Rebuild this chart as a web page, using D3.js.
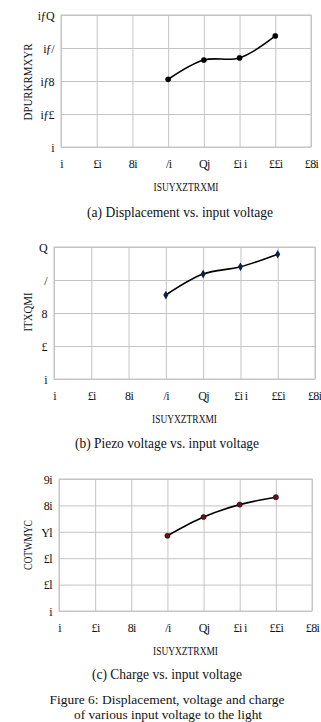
<!DOCTYPE html>
<html><head><meta charset="utf-8">
<script src="https://cdn.jsdelivr.net/npm/d3@7"></script>
<style>body{margin:0;background:#fff}svg{display:block}text{font-family:"Liberation Serif","DejaVu Serif",serif;fill:#111}</style>
</head><body>
<script>
const xTicks = [0,20,40,60,80,100,120,140];
const xTickLabels = ["i","£i","8i","/i","Qj","£i i","££i","£8i"];
const inputVoltage = [60,80,100,120];
const displacement = [0.41,0.527,0.54,0.673];
const piezoVoltage = [5.09,6.36,6.8,7.56];
const charge = [28.5,35.6,40.3,43.1];
const yTicksA = [0,0.2,0.4,0.6,0.8];
const yLabelsA = ["i","iƒ£","iƒ8","iƒ/","iƒQ"];
const yTicksB = [0,2,4,6,8];
const yLabelsB = ["i","£","8","/","Q"];
const yTicksC = [0,10,20,30,40,50];
const yLabelsC = ["i","£l","£l","Yl","8i","9i"];
const xTitle = "ISUYXZTRXMI";
const yTitles = ["DPURKRMXYR","ITXQMI","COTWMYC"];
const captions = ["(a) Displacement vs. input voltage","(b) Piezo voltage vs. input voltage","(c) Charge vs. input voltage"];
const figCaption = ["Figure 6: Displacement, voltage and charge","of various input voltage to the light"];

const svg = d3.select("body").append("svg").attr("width",321).attr("height",722);

const panels = [
  {l:61,r:311,t:15,b:147,yt:yTicksA,yl:yLabelsA,data:displacement,marker:"circle",mcol:"#000",ytx:27,ytw:77},
  {l:54,r:315,t:247,b:379,yt:yTicksB,yl:yLabelsB,data:piezoVoltage,marker:"diamond",mcol:"#0d1f4a",ytx:27,ytw:39},
  {l:59,r:312,t:479,b:611,yt:yTicksC,yl:yLabelsC,data:charge,marker:"circle",mcol:"#6a0f1e",ytx:27,ytw:50}
];

panels.forEach((p,i)=>{
  const x = d3.scaleLinear().domain([0,140]).range([p.l,p.r]);
  const y = d3.scaleLinear().domain([p.yt[0],p.yt[p.yt.length-1]]).range([p.b,p.t]);
  const g = svg.append("g");
  const gx = g.append("g").attr("transform",`translate(0,${p.b})`)
    .call(d3.axisBottom(x).tickValues(xTicks).tickSize(-(p.b-p.t)).tickFormat(""));
  const gy = g.append("g").attr("transform",`translate(${p.l},0)`)
    .call(d3.axisLeft(y).tickValues(p.yt).tickSize(-(p.r-p.l)).tickFormat(""));
  [gx,gy].forEach(a=>{a.select(".domain").remove();a.selectAll("line").attr("stroke","#c4c4c4").attr("stroke-width",1);});
  g.append("rect").attr("x",p.l).attr("y",p.t).attr("width",p.r-p.l).attr("height",p.b-p.t)
    .attr("fill","none").attr("stroke","#c4c4c4");
  const ax = g.append("g").attr("transform",`translate(0,${p.b+17})`)
    .call(d3.axisBottom(x).tickValues(xTicks).tickSize(0).tickPadding(0).tickFormat((d,j)=>xTickLabels[j]));
  ax.select(".domain").remove();
  ax.selectAll("text").attr("font-size",12).attr("dy","0.35em").attr("letter-spacing","-0.6").attr("fill","#111");
  if(p.r>313) ax.selectAll("text").filter((d,j)=>j===xTicks.length-1).attr("text-anchor","end").attr("dx",6);
  const ay = g.append("g").attr("transform",`translate(${p.l-7},0)`)
    .call(d3.axisLeft(y).tickValues(p.yt).tickSize(0).tickPadding(0).tickFormat((d,j)=>p.yl[j]));
  ay.select(".domain").remove();
  ay.selectAll("text").attr("font-size",12).attr("dy","0.35em").attr("letter-spacing","-0.6").attr("fill","#111");
  g.append("text").attr("x",(p.l+p.r)/2).attr("y",p.b+39).attr("text-anchor","middle").attr("dominant-baseline","central")
    .attr("font-size",13).attr("textLength",65).attr("lengthAdjust","spacingAndGlyphs").text(xTitle);
  const cy = (p.t+p.b)/2 + (i===0?1:i===1?-1:0);
  g.append("text").attr("transform",`translate(${p.ytx},${cy}) rotate(-90)`).attr("text-anchor","middle").attr("dominant-baseline","central")
    .attr("font-size",13).attr("textLength",p.ytw).attr("lengthAdjust","spacingAndGlyphs").text(yTitles[i]);
  const pts = inputVoltage.map((v,j)=>[x(v),y(p.data[j])]);
  g.append("path").attr("d",d3.line().curve(d3.curveCatmullRom.alpha(0.5))(pts))
    .attr("fill","none").attr("stroke","#000").attr("stroke-width",1.6);
  if(p.marker==="circle"){
    g.selectAll(null).data(pts).join("circle").attr("cx",d=>d[0]).attr("cy",d=>d[1]).attr("r",2.6).attr("fill",p.mcol).attr("stroke","#000").attr("stroke-width",0.5);
  } else {
    g.selectAll(null).data(pts).join("path").attr("transform",d=>`translate(${d[0]},${d[1]})`)
      .attr("d",d3.symbol(d3.symbolDiamond,22)()).attr("fill",p.mcol);
  }
});

const capSpec = [{y:212,cx:180,w:186},{y:443,cx:167,w:184},{y:674,cx:167,w:150}];
capSpec.forEach((c,i)=>{
  svg.append("text").attr("x",c.cx).attr("y",c.y).attr("text-anchor","middle").attr("dominant-baseline","central")
    .attr("font-size",14).attr("textLength",c.w).attr("lengthAdjust","spacingAndGlyphs").text(captions[i]);
});
svg.append("text").attr("x",167).attr("y",699).attr("text-anchor","middle").attr("dominant-baseline","central")
  .attr("font-size",13).attr("textLength",235).attr("lengthAdjust","spacingAndGlyphs").text(figCaption[0]);
svg.append("text").attr("x",168).attr("y",714).attr("text-anchor","middle").attr("dominant-baseline","central")
  .attr("font-size",13).attr("textLength",188).attr("lengthAdjust","spacingAndGlyphs").text(figCaption[1]);
</script>
</body></html>
